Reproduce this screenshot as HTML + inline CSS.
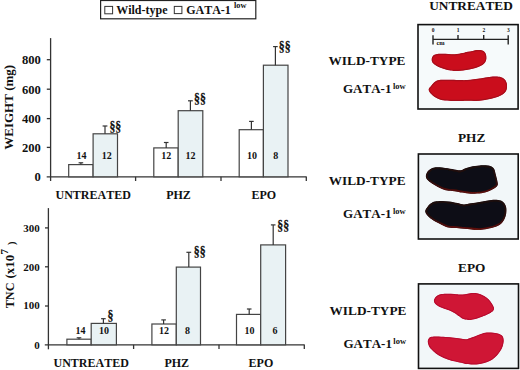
<!DOCTYPE html>
<html><head><meta charset="utf-8">
<style>
html,body{margin:0;padding:0;background:#fff;}
svg{display:block;}
text{font-family:"Liberation Serif",serif;font-weight:bold;fill:#111;font-kerning:none;}
</style></head>
<body>
<svg width="520" height="370" viewBox="0 0 520 370">
<rect x="0" y="0.0" width="520" height="370.0" fill="#fff"/>

<!-- Legend -->
<rect x="100.6" y="0.5" width="155.2" height="18.3" fill="#fff" stroke="#222" stroke-width="1.2"/>
<rect x="104.8" y="6.4" width="7.8" height="7.4" fill="#fff" stroke="#333" stroke-width="1"/>
<text x="116.2" y="14" font-size="12">Wild-type</text>
<rect x="174.3" y="6.4" width="7.6" height="7.2" fill="#fff" stroke="#333" stroke-width="1"/>
<text x="186.2" y="14.3" font-size="12">GATA-1</text>
<text x="234" y="7.9" font-size="8.3">low</text>

<!-- ===== TOP CHART (WEIGHT) ===== -->
<g stroke="#333" stroke-width="1.3" fill="none">
  <line x1="50.6" y1="38.1" x2="50.6" y2="181"/>
  <line x1="46.7" y1="176.8" x2="306.6" y2="176.8"/>
  <line x1="46.8" y1="59.7" x2="50.6" y2="59.7"/>
  <line x1="46.8" y1="89.2" x2="50.6" y2="89.2"/>
  <line x1="46.8" y1="118.6" x2="50.6" y2="118.6"/>
  <line x1="46.8" y1="147.4" x2="50.6" y2="147.4"/>
  <line x1="135.6" y1="176.8" x2="135.6" y2="181"/>
  <line x1="221" y1="176.8" x2="221" y2="181"/>
  <line x1="306.3" y1="176.8" x2="306.3" y2="181"/>
</g>
<g font-size="12.6" text-anchor="end">
  <text x="40.8" y="64.2">800</text>
  <text x="40.8" y="93.9">600</text>
  <text x="40.8" y="123">400</text>
  <text x="40.8" y="151.8">200</text>
  <text x="40.8" y="181.4">0</text>
</g>
<text transform="translate(12.7,107.3) rotate(-90)" font-size="13" text-anchor="middle">WEIGHT (mg)</text>

<!-- bars top -->
<g stroke="#444" stroke-width="1.2">
  <rect x="68.7" y="164.6" width="24.4" height="12.2" fill="#fff"/>
  <rect x="93.1" y="133.8" width="24.4" height="43.0" fill="#e9f2f4"/>
  <rect x="153.8" y="147.9" width="24.4" height="28.9" fill="#fff"/>
  <rect x="178.2" y="110.7" width="24.6" height="66.1" fill="#e9f2f4"/>
  <rect x="239.2" y="129.7" width="24.2" height="47.1" fill="#fff"/>
  <rect x="263.4" y="65.2" width="24.6" height="111.6" fill="#e9f2f4"/>
</g>
<!-- error bars top -->
<g stroke="#333" stroke-width="1.2">
  <line x1="80.9" y1="164.6" x2="80.9" y2="162.8"/><line x1="78.6" y1="162.8" x2="83.2" y2="162.8"/>
  <line x1="105" y1="133.8" x2="105" y2="126"/><line x1="102.6" y1="126" x2="107.4" y2="126"/>
  <line x1="166.2" y1="147.9" x2="166.2" y2="142.5"/><line x1="163.9" y1="142.5" x2="168.5" y2="142.5"/>
  <line x1="190.4" y1="110.7" x2="190.4" y2="100.8"/><line x1="188" y1="100.8" x2="192.8" y2="100.8"/>
  <line x1="251.4" y1="129.7" x2="251.4" y2="121.4"/><line x1="249.1" y1="121.4" x2="253.7" y2="121.4"/>
  <line x1="275.4" y1="65.2" x2="275.4" y2="46.6"/><line x1="273.1" y1="46.6" x2="277.7" y2="46.6"/>
</g>
<g font-size="10" text-anchor="middle">
  <text x="81.5" y="159">14</text>
  <text x="106.7" y="159">12</text>
  <text x="166.2" y="159">12</text>
  <text x="190.4" y="159">12</text>
  <text x="252" y="159">10</text>
  <text x="275.7" y="159">8</text>
</g>
<g font-size="13.5">
  <text transform="translate(109.4,130.6) scale(0.88,1.03)" stroke="#111" stroke-width="0.25">§§</text>
  <text transform="translate(194.0,102.6) scale(0.88,1.03)" stroke="#111" stroke-width="0.25">§§</text>
  <text transform="translate(278.8,51.0) scale(0.88,1.03)" stroke="#111" stroke-width="0.25">§§</text>
</g>
<g font-size="12" text-anchor="middle">
  <text x="93.2" y="199.2">UNTREATED</text>
  <text x="178.5" y="199.2">PHZ</text>
  <text x="263.8" y="199.2">EPO</text>
</g>

<!-- ===== BOTTOM CHART (TNC) ===== -->
<g stroke="#333" stroke-width="1.3" fill="none">
  <line x1="48.4" y1="208.1" x2="48.4" y2="349.3"/>
  <line x1="44.8" y1="344.8" x2="304.6" y2="344.8"/>
  <line x1="45" y1="227.9" x2="48.4" y2="227.9"/>
  <line x1="45" y1="266.8" x2="48.4" y2="266.8"/>
  <line x1="45" y1="306" x2="48.4" y2="306"/>
  <line x1="133.6" y1="344.8" x2="133.6" y2="349"/>
  <line x1="219" y1="344.8" x2="219" y2="349"/>
  <line x1="304.3" y1="344.8" x2="304.3" y2="349"/>
</g>
<g font-size="11" text-anchor="end">
  <text x="39.7" y="231.6">300</text>
  <text x="39.7" y="270.8">200</text>
  <text x="39.7" y="309.4">100</text>
  <text x="39.7" y="348.6">0</text>
</g>
<text transform="translate(13.9,308.3) rotate(-90)" font-size="12.2">TNC</text>
<text transform="translate(13.9,278.4) rotate(-90)" font-size="12.8">(x10</text>
<text transform="translate(8.2,254.6) rotate(-90)" font-size="11">7</text>
<text transform="translate(15.2,245) rotate(-90)" font-size="10.5">)</text>

<g stroke="#444" stroke-width="1.2">
  <rect x="66.9" y="339.2" width="24.3" height="5.6" fill="#fff"/>
  <rect x="91.2" y="323.4" width="25.2" height="21.4" fill="#e9f2f4"/>
  <rect x="151.9" y="324.0" width="24.4" height="20.8" fill="#fff"/>
  <rect x="176.3" y="267.1" width="24.2" height="77.7" fill="#e9f2f4"/>
  <rect x="236.5" y="314.4" width="24.2" height="30.4" fill="#fff"/>
  <rect x="260.7" y="244.9" width="24.9" height="99.9" fill="#e9f2f4"/>
</g>
<g stroke="#333" stroke-width="1.2">
  <line x1="79" y1="339.2" x2="79" y2="337.8"/><line x1="76.7" y1="337.8" x2="81.3" y2="337.8"/>
  <line x1="103.4" y1="323.4" x2="103.4" y2="318.7"/><line x1="101.1" y1="318.7" x2="105.7" y2="318.7"/>
  <line x1="163.6" y1="324" x2="163.6" y2="319.9"/><line x1="161.3" y1="319.9" x2="165.9" y2="319.9"/>
  <line x1="188.8" y1="267.1" x2="188.8" y2="252.3"/><line x1="186.4" y1="252.3" x2="191.2" y2="252.3"/>
  <line x1="249.2" y1="314.4" x2="249.2" y2="309"/><line x1="246.9" y1="309" x2="251.5" y2="309"/>
  <line x1="273.2" y1="244.9" x2="273.2" y2="224.9"/><line x1="270.9" y1="224.9" x2="275.5" y2="224.9"/>
</g>
<g font-size="10" text-anchor="middle">
  <text x="80.4" y="333.5">14</text>
  <text x="104.1" y="333.5">10</text>
  <text x="164" y="333.5">12</text>
  <text x="187.6" y="333.5">8</text>
  <text x="249.4" y="333.5">10</text>
  <text x="275.1" y="333.5">6</text>
</g>
<g font-size="13.5">
  <text transform="translate(107.4,320.0) scale(0.88,1.03)" stroke="#111" stroke-width="0.25">§</text>
  <text transform="translate(193.8,255.6) scale(0.88,1.03)" stroke="#111" stroke-width="0.25">§§</text>
  <text transform="translate(277.2,229.5) scale(0.88,1.03)" stroke="#111" stroke-width="0.25">§§</text>
</g>
<g font-size="12" text-anchor="middle">
  <text x="91.2" y="367">UNTREATED</text>
  <text x="176.8" y="367">PHZ</text>
  <text x="260.9" y="367">EPO</text>
</g>

<!-- ===== RIGHT PANELS ===== -->
<g font-size="13.3" text-anchor="middle">
  <text x="471" y="10.2">UNTREATED</text>
  <text x="471.6" y="142.1">PHZ</text>
  <text x="471.7" y="271.9">EPO</text>
</g>
<g font-size="13.3" text-anchor="end">
  <text x="405.4" y="65.2">WILD-TYPE</text>
  <text x="391.4" y="93.1" font-size="13">GATA-1</text>
  <text x="405.6" y="185.2">WILD-TYPE</text>
  <text x="391.5" y="217.9" font-size="13">GATA-1</text>
  <text x="406.4" y="315.3">WILD-TYPE</text>
  <text x="391.9" y="347.6" font-size="13">GATA-1</text>
</g>
<g font-size="8.5">
  <text x="392.9" y="88.9">low</text>
  <text x="393" y="213.8">low</text>
  <text x="393.3" y="343.5">low</text>
</g>

<!-- Photo boxes -->
<rect x="418" y="24.6" width="100.1" height="84.4" fill="#f6fafb" stroke="#111" stroke-width="1.6"/>
<rect x="418.4" y="154" width="99.8" height="85" fill="#f2f7f9" stroke="#111" stroke-width="1.6"/>
<rect x="418.5" y="283.9" width="100" height="84.5" fill="#f2f7f9" stroke="#111" stroke-width="1.6"/>

<!-- scale bar -->
<g stroke="#222" stroke-width="1.4">
  <line x1="433" y1="39.4" x2="508.2" y2="39.4"/>
  <line x1="433" y1="35.2" x2="433" y2="44.5"/>
  <line x1="508.2" y1="35.2" x2="508.2" y2="44.5"/>
  <line x1="458" y1="35" x2="458" y2="39.4"/>
  <line x1="483.7" y1="35" x2="483.7" y2="39.4"/>
</g>
<g font-size="5.5" text-anchor="middle">
  <text x="433.2" y="32.1">0</text>
  <text x="458" y="32.1">1</text>
  <text x="483.8" y="32.1">2</text>
  <text x="508.3" y="32.1">3</text>
</g>
<text x="436.4" y="45.2" font-size="6.4">cm</text>

<!-- spleens -->
<defs>
<clipPath id="cU1"><path d="M431.7,58.8 C431.8,57.8 432.3,56.7 432.9,56.0 C433.5,55.3 434.1,55.0 435.3,54.6 C436.5,54.2 438.0,53.9 440.2,53.8 C442.4,53.7 445.8,53.8 448.3,53.9 C450.8,54.0 452.6,54.4 455.0,54.2 C457.4,54.0 460.8,53.3 462.9,52.9 C465.0,52.5 466.1,52.0 467.7,51.7 C469.3,51.4 471.0,51.2 472.6,50.9 C474.2,50.6 476.0,50.2 477.5,50.1 C479.0,50.0 480.4,50.0 481.5,50.3 C482.6,50.6 483.6,51.0 484.4,51.7 C485.1,52.4 485.7,53.5 486.0,54.6 C486.3,55.8 486.5,57.3 486.4,58.6 C486.3,59.9 485.9,61.2 485.2,62.3 C484.5,63.4 483.5,64.3 482.4,65.1 C481.2,65.9 479.9,66.5 478.3,67.1 C476.7,67.7 474.6,68.3 472.6,68.8 C470.6,69.3 468.1,69.7 466.1,70.0 C464.1,70.3 462.2,70.6 460.4,70.8 C458.5,71.0 456.6,71.0 455.0,71.0 C453.4,71.0 452.5,70.9 450.7,70.6 C448.9,70.2 446.2,69.5 444.2,68.9 C442.2,68.3 440.2,67.6 438.6,66.9 C437.0,66.2 435.6,65.3 434.5,64.5 C433.4,63.7 432.6,63.0 432.1,62.0 C431.6,61.0 431.6,59.8 431.7,58.8 Z"/></clipPath>
<clipPath id="cU2"><path d="M428.6,89.8 C428.6,89.1 429.1,88.3 429.6,87.6 C430.1,86.9 430.7,86.2 431.4,85.4 C432.1,84.6 433.1,83.4 434.0,82.6 C434.9,81.8 435.6,81.0 437.0,80.5 C438.4,80.0 440.0,79.9 442.4,79.8 C444.8,79.7 448.6,79.8 451.6,79.8 C454.7,79.8 458.1,80.1 460.7,80.1 C463.3,80.1 464.8,80.2 467.0,80.0 C469.2,79.8 471.4,79.5 473.8,79.2 C476.2,78.9 479.0,78.7 481.6,78.3 C484.2,77.9 486.7,77.3 489.3,77.0 C491.9,76.7 495.0,76.5 497.1,76.6 C499.2,76.7 500.7,77.1 502.0,77.6 C503.3,78.1 504.2,78.8 505.0,79.8 C505.8,80.8 506.5,82.3 506.8,83.6 C507.1,84.9 507.1,86.2 507.0,87.5 C506.9,88.8 506.6,90.1 505.9,91.2 C505.2,92.3 504.3,93.3 503.0,94.2 C501.7,95.1 500.1,96.0 498.1,96.8 C496.2,97.5 493.7,98.1 491.3,98.7 C488.9,99.3 486.1,99.8 483.5,100.2 C480.9,100.6 478.3,100.8 475.7,100.9 C473.1,101.0 470.5,100.7 468.0,100.7 C465.5,100.7 463.4,100.9 460.7,100.9 C458.0,100.9 454.6,101.0 451.6,100.9 C448.7,100.8 445.4,100.6 443.0,100.2 C440.6,99.8 439.0,99.0 437.5,98.4 C436.0,97.8 435.1,97.1 434.0,96.4 C432.9,95.7 431.9,94.8 431.2,94.0 C430.4,93.2 429.9,92.6 429.5,91.9 C429.1,91.2 428.6,90.5 428.6,89.8 Z"/></clipPath>
<clipPath id="cP1"><path d="M425.9,175.4 C426.1,174.0 427.1,172.0 428.2,170.8 C429.3,169.6 430.8,168.6 432.3,168.0 C433.8,167.4 434.8,167.2 437.4,167.2 C440.0,167.2 444.6,167.8 447.7,168.2 C450.8,168.6 453.7,169.5 455.9,169.8 C458.1,170.2 459.6,170.5 461.0,170.3 C462.4,170.1 462.7,169.4 464.3,168.8 C465.9,168.2 468.3,167.3 470.8,166.7 C473.3,166.1 476.6,165.6 479.5,165.4 C482.4,165.2 485.9,165.3 488.1,165.6 C490.3,165.9 491.4,166.5 492.5,167.2 C493.6,167.9 494.1,168.7 494.6,169.9 C495.1,171.1 495.2,172.4 495.7,174.2 C496.1,176.0 497.0,178.9 497.3,180.7 C497.6,182.5 498.1,183.8 497.7,185.1 C497.2,186.4 496.2,187.2 494.6,188.3 C493.0,189.4 490.3,190.8 488.1,191.6 C485.9,192.4 484.5,192.8 481.6,193.2 C478.7,193.5 474.1,193.8 470.8,193.7 C467.5,193.6 464.5,193.0 462.0,192.6 C459.5,192.2 458.1,191.7 455.9,191.4 C453.7,191.1 450.9,191.2 448.7,190.8 C446.5,190.5 444.5,190.0 442.6,189.3 C440.7,188.6 439.1,187.6 437.4,186.7 C435.7,185.8 434.0,184.9 432.3,183.7 C430.6,182.5 428.2,180.9 427.1,179.5 C426.0,178.1 425.7,176.8 425.9,175.4 Z"/></clipPath>
<clipPath id="cP2"><path d="M425.2,211.2 C425.2,209.8 426.5,208.2 427.4,206.9 C428.3,205.6 429.3,204.5 430.6,203.6 C431.9,202.7 433.2,201.9 435.0,201.5 C436.8,201.1 439.2,200.9 441.5,200.9 C443.8,200.9 446.3,201.1 449.0,201.5 C451.7,201.9 455.2,202.6 457.7,203.1 C460.2,203.6 461.8,204.5 464.0,204.5 C466.2,204.5 468.5,203.7 471.1,203.3 C473.7,202.9 476.7,202.6 479.5,202.1 C482.3,201.6 485.2,201.0 487.8,200.6 C490.4,200.2 492.7,199.7 494.9,199.7 C497.1,199.7 499.2,200.0 500.8,200.6 C502.4,201.2 503.5,202.2 504.4,203.3 C505.3,204.5 505.9,205.8 506.2,207.5 C506.5,209.2 506.5,211.4 506.2,213.4 C505.9,215.4 505.3,217.5 504.4,219.3 C503.5,221.1 502.4,222.8 500.8,224.1 C499.2,225.4 497.1,226.3 494.9,227.1 C492.7,227.9 490.4,228.3 487.8,228.8 C485.2,229.3 482.3,229.9 479.5,230.0 C476.7,230.1 473.7,229.6 471.1,229.4 C468.5,229.2 466.4,229.0 464.0,228.8 C461.6,228.6 459.3,228.2 456.6,228.0 C453.9,227.8 450.5,228.0 448.0,227.4 C445.5,226.8 443.5,225.6 441.5,224.7 C439.5,223.8 437.7,222.9 436.1,222.0 C434.5,221.1 433.1,220.4 431.7,219.3 C430.2,218.2 428.5,216.8 427.4,215.5 C426.3,214.2 425.2,212.6 425.2,211.2 Z"/></clipPath>
<clipPath id="cE1"><path d="M433.9,300.7 C433.9,299.6 434.8,298.2 435.4,297.3 C436.0,296.4 436.8,295.9 437.8,295.3 C438.9,294.8 440.1,294.3 441.7,294.0 C443.3,293.7 445.4,293.7 447.5,293.7 C449.6,293.7 452.3,293.9 454.4,294.0 C456.5,294.1 458.2,294.6 460.0,294.6 C461.8,294.6 463.4,294.4 465.1,294.2 C466.8,294.0 468.6,293.4 470.3,293.2 C472.0,293.0 473.7,292.8 475.4,293.0 C477.1,293.2 479.0,293.6 480.5,294.2 C482.0,294.8 483.2,295.4 484.6,296.3 C486.0,297.2 487.6,298.2 488.8,299.4 C490.0,300.6 491.0,302.1 491.8,303.5 C492.6,304.9 493.6,306.4 493.9,307.6 C494.2,308.8 493.9,309.8 493.4,310.6 C492.9,311.5 491.9,312.0 490.8,312.7 C489.7,313.4 488.4,314.0 486.7,314.8 C485.0,315.6 482.4,316.6 480.5,317.3 C478.6,318.0 477.1,318.5 475.4,318.9 C473.7,319.3 472.0,319.8 470.3,319.9 C468.6,320.0 466.5,319.6 465.1,319.4 C463.7,319.1 463.1,318.9 462.1,318.4 C461.1,317.9 460.5,317.2 459.2,316.3 C457.9,315.4 456.0,313.9 454.4,312.9 C452.8,311.9 451.3,311.1 449.5,310.4 C447.7,309.7 445.4,309.1 443.6,308.5 C441.8,307.9 440.2,307.2 438.8,306.5 C437.4,305.8 436.2,305.1 435.4,304.1 C434.6,303.1 433.9,301.8 433.9,300.7 Z"/></clipPath>
<clipPath id="cE2"><path d="M427.8,341.5 C427.8,340.2 428.3,339.1 428.9,338.3 C429.5,337.5 430.2,337.0 431.6,336.7 C433.0,336.4 434.7,336.4 437.0,336.4 C439.3,336.4 442.7,336.7 445.6,336.9 C448.5,337.1 451.6,337.4 454.3,337.7 C457.0,338.0 459.9,338.5 461.9,338.8 C463.8,339.1 464.7,339.4 466.0,339.3 C467.3,339.2 468.1,338.7 469.7,338.2 C471.2,337.7 473.4,336.9 475.3,336.2 C477.2,335.5 479.1,334.5 481.0,333.9 C482.9,333.3 484.6,332.8 486.7,332.6 C488.8,332.4 491.4,332.6 493.5,332.8 C495.6,333.0 497.7,333.3 499.2,333.9 C500.7,334.5 501.9,335.1 502.6,336.2 C503.4,337.3 503.7,339.0 503.7,340.7 C503.7,342.4 503.2,344.7 502.6,346.4 C502.0,348.1 501.2,349.5 500.3,351.0 C499.4,352.5 498.2,354.1 496.9,355.5 C495.6,356.9 494.1,358.4 492.4,359.5 C490.7,360.6 488.8,361.6 486.7,362.3 C484.6,363.1 482.2,363.6 479.9,364.0 C477.6,364.4 475.4,364.6 473.1,364.6 C470.8,364.6 468.0,364.2 466.3,364.0 C464.6,363.8 464.8,363.6 463.0,363.2 C461.2,362.8 457.9,362.2 455.4,361.6 C452.9,361.0 450.1,360.2 447.8,359.4 C445.5,358.6 443.3,357.7 441.3,356.7 C439.3,355.7 437.5,354.6 435.9,353.4 C434.3,352.2 432.8,350.9 431.6,349.6 C430.4,348.4 429.5,347.2 428.9,345.9 C428.3,344.5 427.8,342.8 427.8,341.5 Z"/></clipPath>
<linearGradient id="rimP" x1="0" y1="0" x2="0" y2="1">
<stop offset="0" stop-color="#1c0c0e"/><stop offset="0.55" stop-color="#2a0a0c"/><stop offset="1" stop-color="#621210"/>
</linearGradient>
<filter id="soft" x="-5%" y="-5%" width="110%" height="110%"><feGaussianBlur stdDeviation="0.45"/></filter>
</defs>
<g filter="url(#soft)">
<path d="M431.7,58.8 C431.8,57.8 432.3,56.7 432.9,56.0 C433.5,55.3 434.1,55.0 435.3,54.6 C436.5,54.2 438.0,53.9 440.2,53.8 C442.4,53.7 445.8,53.8 448.3,53.9 C450.8,54.0 452.6,54.4 455.0,54.2 C457.4,54.0 460.8,53.3 462.9,52.9 C465.0,52.5 466.1,52.0 467.7,51.7 C469.3,51.4 471.0,51.2 472.6,50.9 C474.2,50.6 476.0,50.2 477.5,50.1 C479.0,50.0 480.4,50.0 481.5,50.3 C482.6,50.6 483.6,51.0 484.4,51.7 C485.1,52.4 485.7,53.5 486.0,54.6 C486.3,55.8 486.5,57.3 486.4,58.6 C486.3,59.9 485.9,61.2 485.2,62.3 C484.5,63.4 483.5,64.3 482.4,65.1 C481.2,65.9 479.9,66.5 478.3,67.1 C476.7,67.7 474.6,68.3 472.6,68.8 C470.6,69.3 468.1,69.7 466.1,70.0 C464.1,70.3 462.2,70.6 460.4,70.8 C458.5,71.0 456.6,71.0 455.0,71.0 C453.4,71.0 452.5,70.9 450.7,70.6 C448.9,70.2 446.2,69.5 444.2,68.9 C442.2,68.3 440.2,67.6 438.6,66.9 C437.0,66.2 435.6,65.3 434.5,64.5 C433.4,63.7 432.6,63.0 432.1,62.0 C431.6,61.0 431.6,59.8 431.7,58.8 Z" fill="#ca0f1f" stroke="#a80a1a" stroke-width="2.4" clip-path="url(#cU1)"/>
<path d="M428.6,89.8 C428.6,89.1 429.1,88.3 429.6,87.6 C430.1,86.9 430.7,86.2 431.4,85.4 C432.1,84.6 433.1,83.4 434.0,82.6 C434.9,81.8 435.6,81.0 437.0,80.5 C438.4,80.0 440.0,79.9 442.4,79.8 C444.8,79.7 448.6,79.8 451.6,79.8 C454.7,79.8 458.1,80.1 460.7,80.1 C463.3,80.1 464.8,80.2 467.0,80.0 C469.2,79.8 471.4,79.5 473.8,79.2 C476.2,78.9 479.0,78.7 481.6,78.3 C484.2,77.9 486.7,77.3 489.3,77.0 C491.9,76.7 495.0,76.5 497.1,76.6 C499.2,76.7 500.7,77.1 502.0,77.6 C503.3,78.1 504.2,78.8 505.0,79.8 C505.8,80.8 506.5,82.3 506.8,83.6 C507.1,84.9 507.1,86.2 507.0,87.5 C506.9,88.8 506.6,90.1 505.9,91.2 C505.2,92.3 504.3,93.3 503.0,94.2 C501.7,95.1 500.1,96.0 498.1,96.8 C496.2,97.5 493.7,98.1 491.3,98.7 C488.9,99.3 486.1,99.8 483.5,100.2 C480.9,100.6 478.3,100.8 475.7,100.9 C473.1,101.0 470.5,100.7 468.0,100.7 C465.5,100.7 463.4,100.9 460.7,100.9 C458.0,100.9 454.6,101.0 451.6,100.9 C448.7,100.8 445.4,100.6 443.0,100.2 C440.6,99.8 439.0,99.0 437.5,98.4 C436.0,97.8 435.1,97.1 434.0,96.4 C432.9,95.7 431.9,94.8 431.2,94.0 C430.4,93.2 429.9,92.6 429.5,91.9 C429.1,91.2 428.6,90.5 428.6,89.8 Z" fill="#ca0f1f" stroke="#a80a1a" stroke-width="2.4" clip-path="url(#cU2)"/>
<path d="M425.9,175.4 C426.1,174.0 427.1,172.0 428.2,170.8 C429.3,169.6 430.8,168.6 432.3,168.0 C433.8,167.4 434.8,167.2 437.4,167.2 C440.0,167.2 444.6,167.8 447.7,168.2 C450.8,168.6 453.7,169.5 455.9,169.8 C458.1,170.2 459.6,170.5 461.0,170.3 C462.4,170.1 462.7,169.4 464.3,168.8 C465.9,168.2 468.3,167.3 470.8,166.7 C473.3,166.1 476.6,165.6 479.5,165.4 C482.4,165.2 485.9,165.3 488.1,165.6 C490.3,165.9 491.4,166.5 492.5,167.2 C493.6,167.9 494.1,168.7 494.6,169.9 C495.1,171.1 495.2,172.4 495.7,174.2 C496.1,176.0 497.0,178.9 497.3,180.7 C497.6,182.5 498.1,183.8 497.7,185.1 C497.2,186.4 496.2,187.2 494.6,188.3 C493.0,189.4 490.3,190.8 488.1,191.6 C485.9,192.4 484.5,192.8 481.6,193.2 C478.7,193.5 474.1,193.8 470.8,193.7 C467.5,193.6 464.5,193.0 462.0,192.6 C459.5,192.2 458.1,191.7 455.9,191.4 C453.7,191.1 450.9,191.2 448.7,190.8 C446.5,190.5 444.5,190.0 442.6,189.3 C440.7,188.6 439.1,187.6 437.4,186.7 C435.7,185.8 434.0,184.9 432.3,183.7 C430.6,182.5 428.2,180.9 427.1,179.5 C426.0,178.1 425.7,176.8 425.9,175.4 Z" fill="#0f0d12" stroke="url(#rimP)" stroke-width="3.6" clip-path="url(#cP1)"/>
<path d="M425.2,211.2 C425.2,209.8 426.5,208.2 427.4,206.9 C428.3,205.6 429.3,204.5 430.6,203.6 C431.9,202.7 433.2,201.9 435.0,201.5 C436.8,201.1 439.2,200.9 441.5,200.9 C443.8,200.9 446.3,201.1 449.0,201.5 C451.7,201.9 455.2,202.6 457.7,203.1 C460.2,203.6 461.8,204.5 464.0,204.5 C466.2,204.5 468.5,203.7 471.1,203.3 C473.7,202.9 476.7,202.6 479.5,202.1 C482.3,201.6 485.2,201.0 487.8,200.6 C490.4,200.2 492.7,199.7 494.9,199.7 C497.1,199.7 499.2,200.0 500.8,200.6 C502.4,201.2 503.5,202.2 504.4,203.3 C505.3,204.5 505.9,205.8 506.2,207.5 C506.5,209.2 506.5,211.4 506.2,213.4 C505.9,215.4 505.3,217.5 504.4,219.3 C503.5,221.1 502.4,222.8 500.8,224.1 C499.2,225.4 497.1,226.3 494.9,227.1 C492.7,227.9 490.4,228.3 487.8,228.8 C485.2,229.3 482.3,229.9 479.5,230.0 C476.7,230.1 473.7,229.6 471.1,229.4 C468.5,229.2 466.4,229.0 464.0,228.8 C461.6,228.6 459.3,228.2 456.6,228.0 C453.9,227.8 450.5,228.0 448.0,227.4 C445.5,226.8 443.5,225.6 441.5,224.7 C439.5,223.8 437.7,222.9 436.1,222.0 C434.5,221.1 433.1,220.4 431.7,219.3 C430.2,218.2 428.5,216.8 427.4,215.5 C426.3,214.2 425.2,212.6 425.2,211.2 Z" fill="#0f0d12" stroke="url(#rimP)" stroke-width="3.6" clip-path="url(#cP2)"/>
<path d="M433.9,300.7 C433.9,299.6 434.8,298.2 435.4,297.3 C436.0,296.4 436.8,295.9 437.8,295.3 C438.9,294.8 440.1,294.3 441.7,294.0 C443.3,293.7 445.4,293.7 447.5,293.7 C449.6,293.7 452.3,293.9 454.4,294.0 C456.5,294.1 458.2,294.6 460.0,294.6 C461.8,294.6 463.4,294.4 465.1,294.2 C466.8,294.0 468.6,293.4 470.3,293.2 C472.0,293.0 473.7,292.8 475.4,293.0 C477.1,293.2 479.0,293.6 480.5,294.2 C482.0,294.8 483.2,295.4 484.6,296.3 C486.0,297.2 487.6,298.2 488.8,299.4 C490.0,300.6 491.0,302.1 491.8,303.5 C492.6,304.9 493.6,306.4 493.9,307.6 C494.2,308.8 493.9,309.8 493.4,310.6 C492.9,311.5 491.9,312.0 490.8,312.7 C489.7,313.4 488.4,314.0 486.7,314.8 C485.0,315.6 482.4,316.6 480.5,317.3 C478.6,318.0 477.1,318.5 475.4,318.9 C473.7,319.3 472.0,319.8 470.3,319.9 C468.6,320.0 466.5,319.6 465.1,319.4 C463.7,319.1 463.1,318.9 462.1,318.4 C461.1,317.9 460.5,317.2 459.2,316.3 C457.9,315.4 456.0,313.9 454.4,312.9 C452.8,311.9 451.3,311.1 449.5,310.4 C447.7,309.7 445.4,309.1 443.6,308.5 C441.8,307.9 440.2,307.2 438.8,306.5 C437.4,305.8 436.2,305.1 435.4,304.1 C434.6,303.1 433.9,301.8 433.9,300.7 Z" fill="#cf1436" stroke="#b60e2e" stroke-width="2" clip-path="url(#cE1)"/>
<path d="M427.8,341.5 C427.8,340.2 428.3,339.1 428.9,338.3 C429.5,337.5 430.2,337.0 431.6,336.7 C433.0,336.4 434.7,336.4 437.0,336.4 C439.3,336.4 442.7,336.7 445.6,336.9 C448.5,337.1 451.6,337.4 454.3,337.7 C457.0,338.0 459.9,338.5 461.9,338.8 C463.8,339.1 464.7,339.4 466.0,339.3 C467.3,339.2 468.1,338.7 469.7,338.2 C471.2,337.7 473.4,336.9 475.3,336.2 C477.2,335.5 479.1,334.5 481.0,333.9 C482.9,333.3 484.6,332.8 486.7,332.6 C488.8,332.4 491.4,332.6 493.5,332.8 C495.6,333.0 497.7,333.3 499.2,333.9 C500.7,334.5 501.9,335.1 502.6,336.2 C503.4,337.3 503.7,339.0 503.7,340.7 C503.7,342.4 503.2,344.7 502.6,346.4 C502.0,348.1 501.2,349.5 500.3,351.0 C499.4,352.5 498.2,354.1 496.9,355.5 C495.6,356.9 494.1,358.4 492.4,359.5 C490.7,360.6 488.8,361.6 486.7,362.3 C484.6,363.1 482.2,363.6 479.9,364.0 C477.6,364.4 475.4,364.6 473.1,364.6 C470.8,364.6 468.0,364.2 466.3,364.0 C464.6,363.8 464.8,363.6 463.0,363.2 C461.2,362.8 457.9,362.2 455.4,361.6 C452.9,361.0 450.1,360.2 447.8,359.4 C445.5,358.6 443.3,357.7 441.3,356.7 C439.3,355.7 437.5,354.6 435.9,353.4 C434.3,352.2 432.8,350.9 431.6,349.6 C430.4,348.4 429.5,347.2 428.9,345.9 C428.3,344.5 427.8,342.8 427.8,341.5 Z" fill="#cf1436" stroke="#b60e2e" stroke-width="2" clip-path="url(#cE2)"/>
</g>

</svg>
</body></html>
